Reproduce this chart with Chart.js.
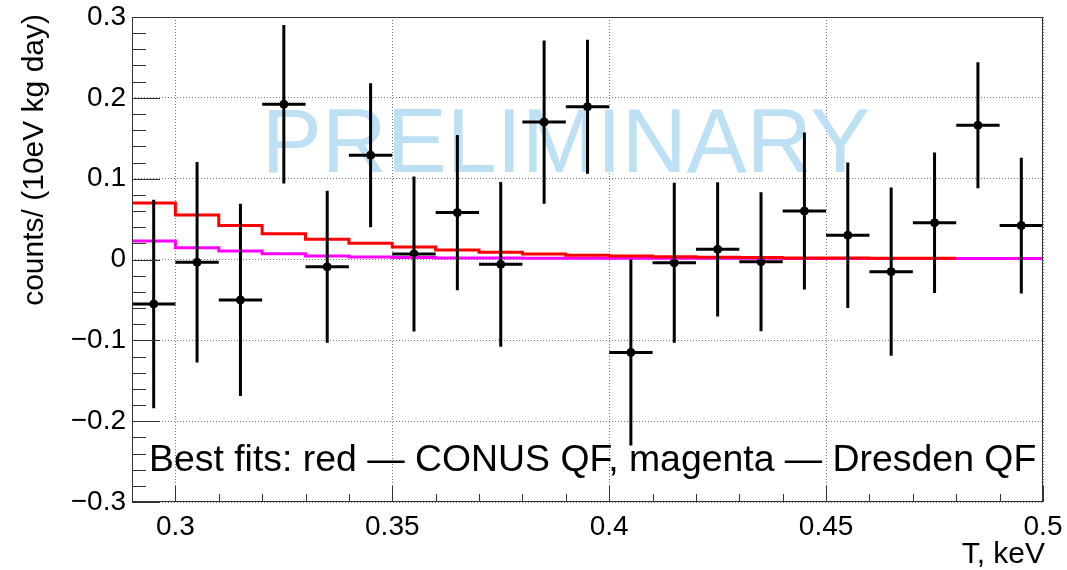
<!DOCTYPE html>
<html>
<head>
<meta charset="utf-8">
<script src="https://cdn.jsdelivr.net/npm/chart.js@4.4.1/dist/chart.umd.min.js"></script>
<style>
html, body { margin: 0; padding: 0; background: #fff; }
#wrap { width: 1067px; height: 570px; }
</style>
</head>
<body>
<div id="wrap"><canvas id="plot" width="1067" height="570"></canvas></div>
<script>
var FONT = '"Liberation Sans", Arial, Helvetica, sans-serif';

// measured points (bin centres, keV)
var energies = [0.295, 0.305, 0.315, 0.325, 0.335, 0.345, 0.355, 0.365, 0.375, 0.385, 0.395,
                0.405, 0.415, 0.425, 0.435, 0.445, 0.455, 0.465, 0.475, 0.485, 0.495];
var counts = [-0.055, -0.0035, -0.050, 0.192, -0.009, 0.129, 0.0068, 0.058, -0.006, 0.170, 0.189,
              -0.115, -0.004, 0.0126, -0.0027, 0.060, 0.030, -0.015, 0.0455, 0.166, 0.042];
var errors = [0.129, 0.124, 0.119, 0.098, 0.094, 0.089, 0.096, 0.096, 0.102, 0.101, 0.083,
              0.115, 0.099, 0.083, 0.086, 0.097, 0.090, 0.104, 0.087, 0.078, 0.084];
var binHalf = 0.005;

// best fit histograms (bin low edges)
var fitEdges = [0.29, 0.30, 0.31, 0.32, 0.33, 0.34, 0.35, 0.36, 0.37, 0.38, 0.39,
                0.40, 0.41, 0.42, 0.43, 0.44, 0.45, 0.46, 0.47, 0.48, 0.49, 0.50];
var conusFit = [0.070, 0.055, 0.042, 0.032, 0.025, 0.020, 0.0155, 0.0117, 0.009, 0.0068,
                0.0052, 0.0043, 0.0035, 0.0027, 0.0024, 0.0020, 0.0018, 0.0017, 0.0016];
var dresdenFit = [0.0229, 0.0146, 0.0105, 0.0072, 0.0042, 0.0030, 0.0024, 0.0020, 0.0018, 0.0017,
                  0.0016, 0.0015, 0.0015, 0.0014, 0.0014, 0.0013, 0.0013, 0.0012, 0.0012, 0.0012, 0.0011];

var xMajor = [0.30, 0.35, 0.40, 0.45, 0.50];
var yMajor = [-0.3, -0.2, -0.1, 0, 0.1, 0.2, 0.3];

function stepPoints(vals) {
  var pts = [];
  for (var i = 0; i < vals.length; i++) pts.push({x: fitEdges[i], y: vals[i]});
  pts.push({x: fitEdges[vals.length], y: vals[vals.length - 1]});
  return pts;
}

var points = energies.map(function (e, i) { return {x: e, y: counts[i]}; });

var rootStyle = {
  id: 'rootStyle',
  beforeDatasetsDraw: function (chart) {
    var ctx = chart.ctx;
    ctx.save();
    ctx.font = '90px ' + FONT;
    ctx.fillStyle = 'rgb(189,224,244)';
    ctx.textAlign = 'center';
    ctx.textBaseline = 'alphabetic';
    ctx.fillText('PRELIMINARY', 566, 172);
    ctx.restore();
  },
  afterDatasetsDraw: function (chart) {
    var ctx = chart.ctx, xs = chart.scales.x, ys = chart.scales.y;
    ctx.save();
    ctx.strokeStyle = '#000';
    ctx.lineWidth = 3;
    ctx.lineCap = 'butt';
    for (var i = 0; i < energies.length; i++) {
      var px = xs.getPixelForValue(energies[i]);
      var py = ys.getPixelForValue(counts[i]);
      ctx.beginPath();
      ctx.moveTo(xs.getPixelForValue(energies[i] - binHalf), py);
      ctx.lineTo(xs.getPixelForValue(energies[i] + binHalf), py);
      ctx.moveTo(px, ys.getPixelForValue(counts[i] + errors[i]));
      ctx.lineTo(px, ys.getPixelForValue(counts[i] - errors[i]));
      ctx.stroke();
    }
    ctx.restore();
  },
  afterDraw: function (chart) {
    var ctx = chart.ctx, a = chart.chartArea, xs = chart.scales.x, ys = chart.scales.y;
    ctx.save();
    // frame
    ctx.strokeStyle = '#333';
    ctx.lineWidth = 1;
    ctx.strokeRect(a.left + 0.5, a.top + 0.5, a.right - a.left - 1, a.bottom - a.top - 1);
    // inner tick marks
    ctx.beginPath();
    var v, p, k;
    for (k = 29; k <= 50; k++) {
      v = k / 100;
      p = Math.round(xs.getPixelForValue(v)) + 0.5;
      var len = (k % 5 === 0) ? 16 : 8;
      ctx.moveTo(p, a.bottom);
      ctx.lineTo(p, a.bottom - len);
    }
    for (k = -15; k <= 15; k++) {
      v = k / 50;
      p = Math.round(ys.getPixelForValue(v)) + 0.5;
      var ln = (k % 5 === 0) ? 28 : 14;
      ctx.moveTo(a.left, p);
      ctx.lineTo(a.left + ln, p);
    }
    ctx.stroke();
    // axis titles
    ctx.fillStyle = '#000';
    ctx.font = '30px ' + FONT;
    ctx.textAlign = 'right';
    ctx.textBaseline = 'alphabetic';
    ctx.fillText('T, keV', a.right + 2, 563);
    ctx.save();
    ctx.translate(43, 14);
    ctx.rotate(-Math.PI / 2);
    ctx.fillText('counts/ (10eV kg day)', 0, 0);
    ctx.restore();
    // annotation
    ctx.font = '37.4px ' + FONT;
    ctx.textAlign = 'left';
    ctx.fillText('Best fits: red \u2014 CONUS QF, magenta \u2014 Dresden QF', 149, 471);
    ctx.restore();
  }
};

new Chart(document.getElementById('plot'), {
  type: 'scatter',
  data: {
    datasets: [
      {
        label: 'CONUS QF',
        type: 'line',
        data: stepPoints(conusFit),
        stepped: 'before',
        borderColor: '#ff0000',
        borderWidth: 3,
        pointRadius: 0,
        fill: false
      },
      {
        label: 'Dresden QF',
        type: 'line',
        data: stepPoints(dresdenFit),
        stepped: 'before',
        borderColor: '#ff00ff',
        borderWidth: 3,
        pointRadius: 0,
        fill: false
      },
      {
        label: 'data',
        data: points,
        backgroundColor: '#000',
        borderColor: '#000',
        pointRadius: 4,
        pointHoverRadius: 4
      }
    ]
  },
  options: {
    responsive: false,
    animation: false,
    layout: { padding: { top: 17, right: 24, left: 0, bottom: 0 } },
    plugins: {
      legend: { display: false },
      tooltip: { enabled: false }
    },
    scales: {
      x: {
        type: 'linear',
        min: 0.29,
        max: 0.5,
        afterFit: function (s) { s.height = 68; s.paddingLeft = 0; s.paddingRight = 0; },
        afterBuildTicks: function (s) { s.ticks = xMajor.map(function (v) { return {value: v}; }); },
        grid: { color: '#777', lineWidth: 1, drawTicks: false },
        border: { display: false, dash: [1, 2] },
        ticks: {
          padding: 8,
          color: '#000',
          font: { family: FONT, size: 28 },
          maxRotation: 0,
          callback: function (v) { return String(Math.round(v * 100) / 100); }
        }
      },
      y: {
        min: -0.3,
        max: 0.3,
        afterFit: function (s) { s.width = 132; s.paddingTop = 0; s.paddingBottom = 0; },
        afterBuildTicks: function (s) { s.ticks = yMajor.map(function (v) { return {value: v}; }); },
        grid: { color: '#777', lineWidth: 1, drawTicks: false },
        border: { display: false, dash: [1, 2] },
        ticks: {
          padding: 6,
          color: '#000',
          font: { family: FONT, size: 28 },
          callback: function (v) {
            if (Math.abs(v) < 1e-9) return '0';
            var s = Math.abs(v).toFixed(1);
            return v < 0 ? '\u2212' + s : s;
          }
        }
      }
    }
  },
  plugins: [rootStyle]
});
</script>
</body>
</html>
